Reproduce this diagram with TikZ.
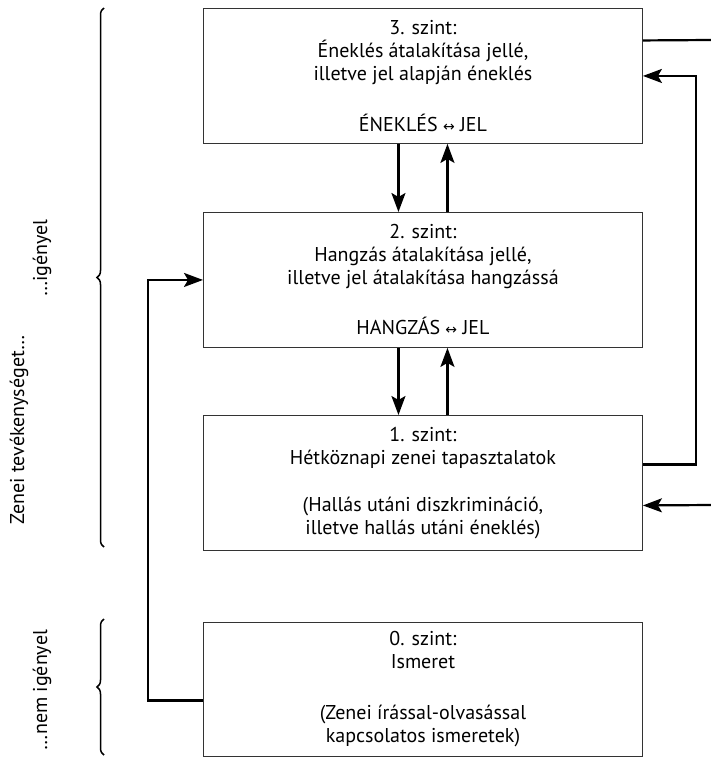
\documentclass[tikz,border=0pt]{standalone}
\usepackage{fontspec}
\setmainfont{PT Sans}
\newfontfamily\symfont{DejaVu Sans}
\usetikzlibrary{arrows.meta,decorations.pathreplacing}
\newcommand{\lra}{{\symfont\fontsize{14}{14}\selectfont ↔}}
\begin{document}
\begin{tikzpicture}[x=1pt,y=-1pt,
  box/.style={draw=black!80, line width=0.9pt, minimum width=439pt, minimum height=135pt,
    inner sep=0pt, align=center, font=\fontsize{20}{23}\selectfont, anchor=north west},
  conn/.style={line width=2.2pt, -{Stealth[length=19pt,width=14pt,inset=4pt]}},
  plain/.style={line width=2.2pt},
  brc/.style={decorate, decoration={brace, amplitude=7pt}, line width=1.5pt},
  side/.style={rotate=90, inner sep=0pt, font=\fontsize{20}{23}\selectfont}]
\useasboundingbox (0,0) rectangle (711,757);

\node[box] (b3) at (203,8) {3. szint:\\ Éneklés átalakítása jellé,\\ illetve jel alapján éneklés\\[28pt] ÉNEKLÉS \lra{} JEL};
\node[box] (b2) at (203,212) {2. szint:\\ Hangzás átalakítása jellé,\\ illetve jel átalakítása hangzássá\\[27pt] HANGZÁS \lra{} JEL};
\node[box] (b1) at (203,415) {1. szint:\\ Hétköznapi zenei tapasztalatok\\[24pt] (Hallás utáni diszkrimináció,\\ illetve hallás utáni éneklés)};
\node[box, minimum height=134pt] (b0) at (203,622) {0. szint:\\ Ismeret\\[28pt] (Zenei írással-olvasással\\ kapcsolatos ismeretek)};

% vertical arrows between levels
\draw[conn] ([xshift=-24.5pt]b3.south) -- ([xshift=-24.5pt]b2.north);
\draw[conn] ([xshift=24.5pt]b2.north) -- ([xshift=24.5pt]b3.south);
\draw[conn] ([xshift=-24.5pt]b2.south) -- ([xshift=-24.5pt]b1.north);
\draw[conn] ([xshift=24.5pt]b1.north) -- ([xshift=24.5pt]b2.south);

% right side
\coordinate (r1) at (711,40);
\coordinate (r2) at (711,505);
\draw[plain] ([yshift=35.5pt]b3.east) -- (r1);
\draw[conn] ([yshift=18.5pt]b1.east) -- ++(53,0) |- (b3.east);
\draw[conn] (r2) -- ([yshift=-22.5pt]b1.east);

% left side
\draw[conn] ([yshift=-11pt]b0.west) -- ++(-55,0) |- (b2.west);

% braces
\draw[brc] (104,547) -- (104,8);
\draw[brc] (104,755) -- (104,619);

% side labels
\node[side] (t1) at (19,430) {Zenei tevékenységet…};
\node[side] (t2) at (42,258) {…igényel};
\node[side] (t3) at (42,690) {…nem igényel};
\end{tikzpicture}
\end{document}
